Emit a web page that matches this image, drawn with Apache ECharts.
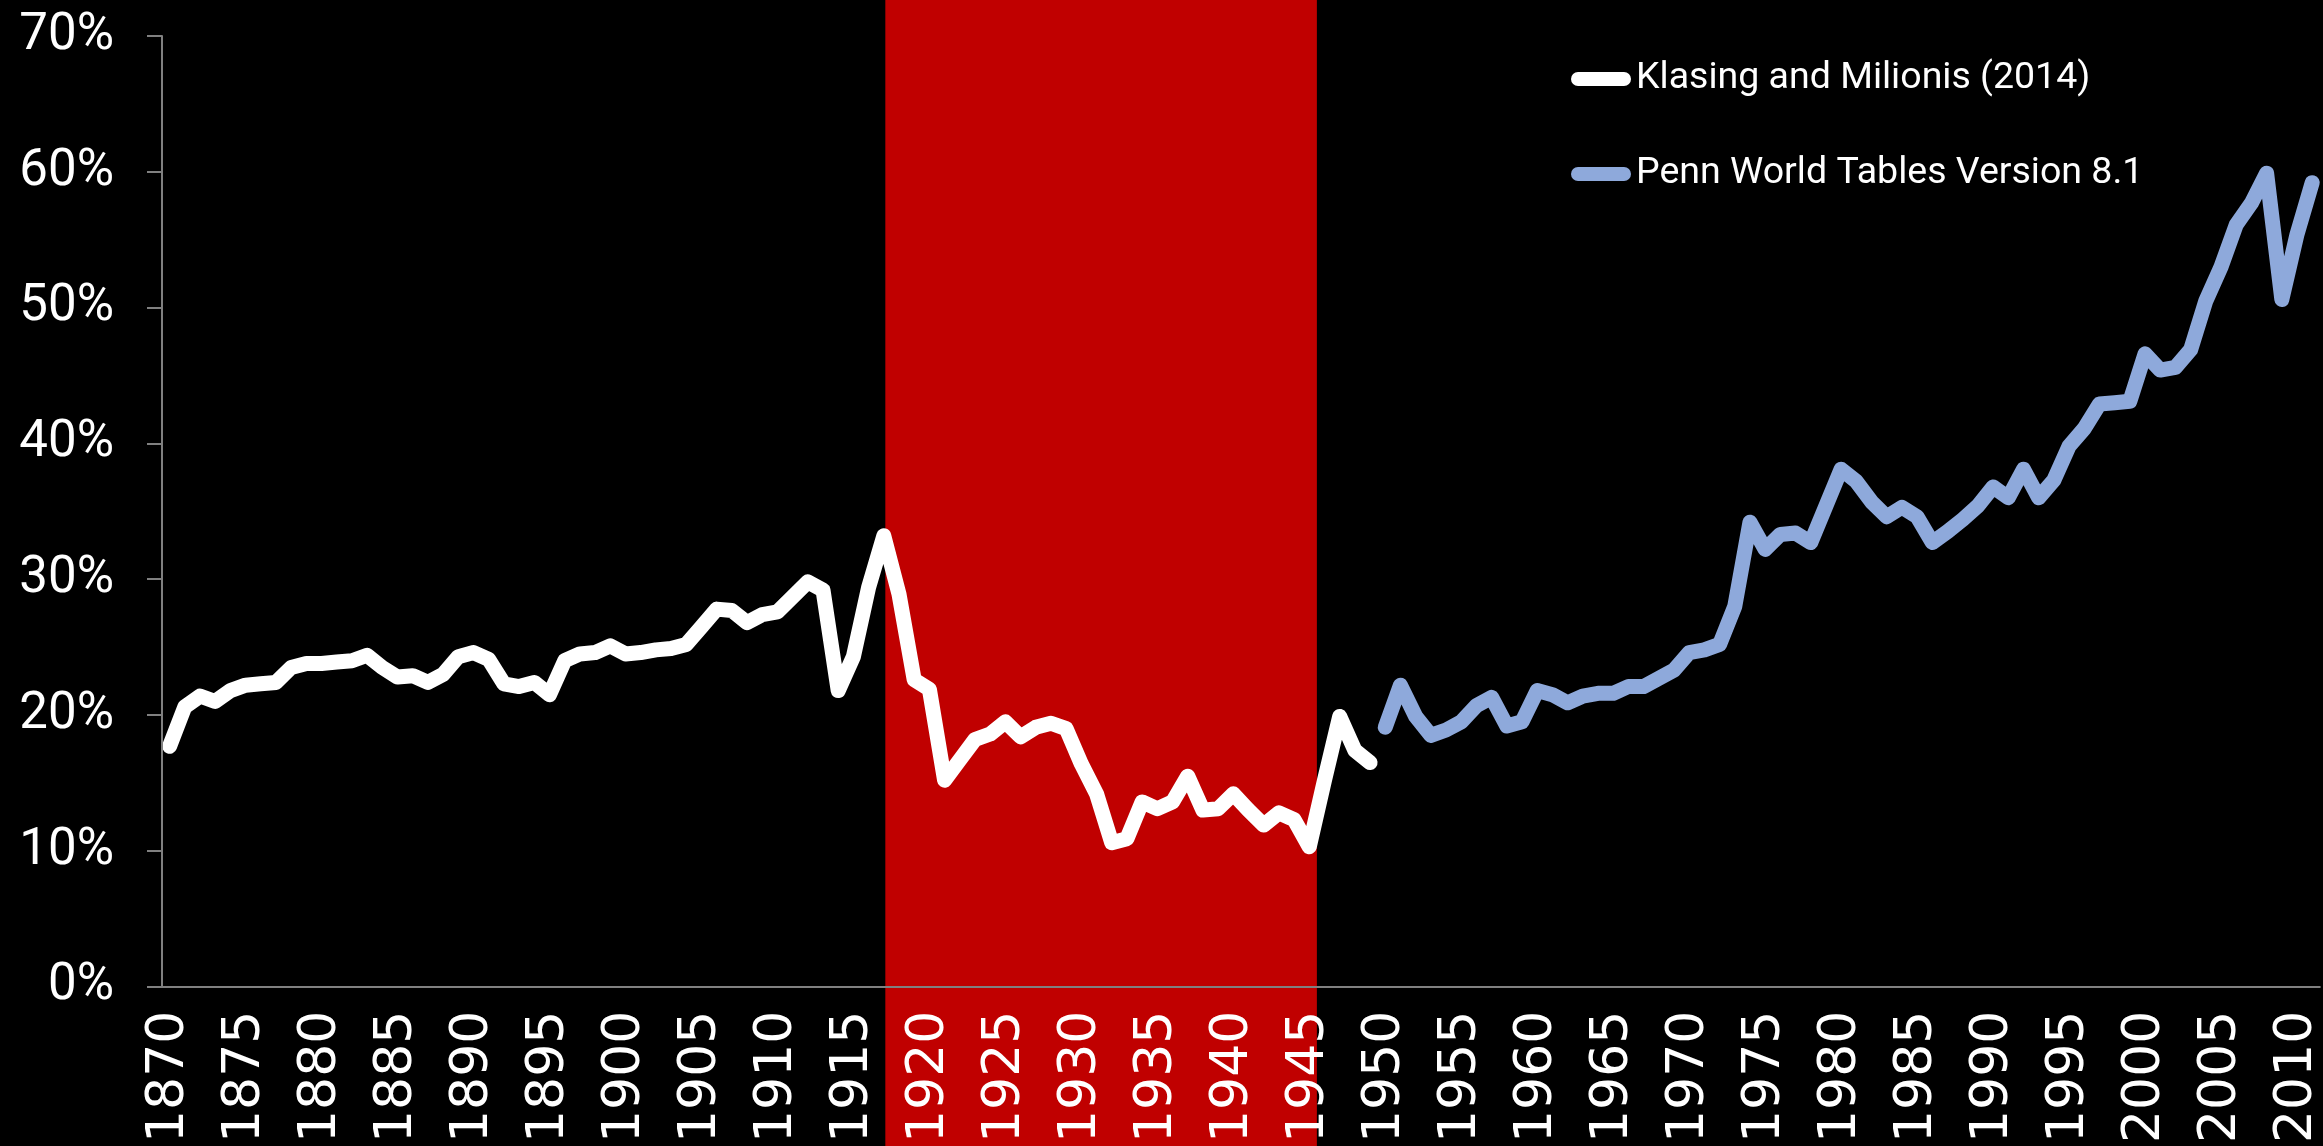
<!DOCTYPE html>
<html>
<head>
<meta charset="utf-8">
<script src="https://cdn.jsdelivr.net/npm/echarts@6/dist/echarts.min.js"></script>
<style>
	html, body { margin: 0; padding: 0; background: #000; }
	#tradeChart { width: 2323px; height: 1146px; }
</style>
</head>
<body>
<div id="tradeChart"></div>
<script>
	// years on the category axis
	var years = [];
	for(var y = 1870; y <= 2011; y++) {
		years.push(String(y));
	}

	// Klasing and Milionis (2014), 1870-1949, in %
	var klasingValues = [
		17.7, 20.6, 21.4, 21.0, 21.8, 22.2, 22.3, 22.4, 23.5, 23.8,
		23.8, 23.9, 24.0, 24.4, 23.5, 22.8, 22.9, 22.4, 23.0, 24.3,
		24.6, 24.1, 22.3, 22.1, 22.4, 21.5, 24.0, 24.5, 24.6, 25.1,
		24.5, 24.6, 24.8, 24.9, 25.2, 26.5, 27.8, 27.7, 26.8, 27.4,
		27.6, 28.7, 29.8, 29.2, 21.8, 24.3, 29.4, 33.2, 28.9, 22.6,
		21.9, 15.2, 16.7, 18.2, 18.6, 19.5, 18.4, 19.1, 19.4, 19.0,
		16.4, 14.2, 10.6, 10.9, 13.6, 13.1, 13.6, 15.5, 13.0, 13.1,
		14.2, 13.0, 11.9, 12.8, 12.3, 10.3, 15.2, 19.9, 17.4, 16.5
	];

	// Penn World Tables Version 8.1, 1950-2011, in %
	var pennValues = [
		19.1, 22.2, 19.9, 18.5, 18.9, 19.5, 20.7, 21.3, 19.2, 19.5,
		21.8, 21.5, 20.9, 21.4, 21.6, 21.6, 22.1, 22.1, 22.7, 23.3,
		24.6, 24.8, 25.2, 28.0, 34.2, 32.2, 33.3, 33.4, 32.7, 35.4,
		38.1, 37.2, 35.7, 34.6, 35.3, 34.6, 32.7, 33.5, 34.4, 35.4,
		36.8, 36.0, 38.1, 36.0, 37.3, 39.8, 41.1, 42.9, 43.0, 43.1,
		46.6, 45.4, 45.6, 46.9, 50.5, 53.0, 56.1, 57.7, 59.9, 50.6,
		55.4, 59.2
	];

	// shaded period (year position on the axis)
	var bandStart = 1917.1;
	var bandEnd = 1945.5;

	var klasingName = 'Klasing and Milionis (2014)';
	var pennName = 'Penn World Tables Version 8.1';

	// place each series on the full year axis
	function onYears(firstYear, values) {
		return years.map(function(yr) {
			var i = Number(yr) - firstYear;
			return (i >= 0 && i < values.length) ? values[i] : null;
		});
	}

	var tradeChart = echarts.init(document.getElementById('tradeChart'));

	var axisGrey = '#808080';

	var tradeOption = {
		backgroundColor: '#000',
		animation: false,
		grid: {
			left: 162,
			right: 0,
			top: 36,
			bottom: 155
		},
		legend: {
			orient: 'vertical',
			left: 1566,
			top: 55,
			itemWidth: 60,
			itemHeight: 14,
			itemGap: 57,
			icon: 'path://M7,0 L53,0 A7,7 0 0 1 53,14 L7,14 A7,7 0 0 1 7,0 Z',
			textStyle: {
				color: '#fff',
				fontSize: 37.5,
				fontFamily: 'Roboto'
			},
			data: [klasingName, pennName]
		},
		xAxis: [{
			type: 'category',
			data: years,
			boundaryGap: true,
			z: 10,
			axisLine: {
				lineStyle: { color: axisGrey, width: 2 }
			},
			axisTick: {
				interval: 0,
				length: 17,
				lineStyle: { color: axisGrey, width: 1 }
			},
			axisLabel: {
				interval: 4,
				rotate: 90,
				margin: 24,
				color: '#fff',
				fontSize: 52,
				fontFamily: 'DejaVu Sans'
			},
			splitLine: { show: false }
		}, {
			//only used to place the shaded period
			type: 'value',
			min: 1869.5,
			max: 2011.5,
			show: false
		}],
		yAxis: {
			type: 'value',
			min: 0,
			max: 70,
			interval: 10,
			z: 10,
			axisLine: {
				show: true,
				lineStyle: { color: axisGrey, width: 2 }
			},
			axisTick: {
				show: true,
				length: 15,
				lineStyle: { color: axisGrey, width: 2 }
			},
			axisLabel: {
				formatter: '{value}%',
				margin: 48,
				color: '#fff',
				fontSize: 51,
				fontFamily: 'Roboto'
			},
			splitLine: { show: false }
		},
		series: [{
			name: 'band',
			type: 'line',
			xAxisIndex: 1,
			data: [],
			clip: false,
			z: 0,
			markArea: {
				silent: true,
				itemStyle: { color: '#C00000' },
				data: [[{ xAxis: bandStart, y: 0 }, { xAxis: bandEnd, y: '100%' }]]
			}
		}, {
			name: klasingName,
			type: 'line',
			data: onYears(1870, klasingValues),
			showSymbol: false,
			connectNulls: false,
			itemStyle: { color: '#ffffff' },
			lineStyle: { color: '#ffffff', width: 15, cap: 'round', join: 'round' },
			z: 3
		}, {
			name: pennName,
			type: 'line',
			data: onYears(1950, pennValues),
			showSymbol: false,
			connectNulls: false,
			itemStyle: { color: '#8EA9DB' },
			lineStyle: { color: '#8EA9DB', width: 15, cap: 'round', join: 'round' },
			z: 3
		}]
	};
	tradeChart.setOption(tradeOption);
</script>
</body>
</html>
